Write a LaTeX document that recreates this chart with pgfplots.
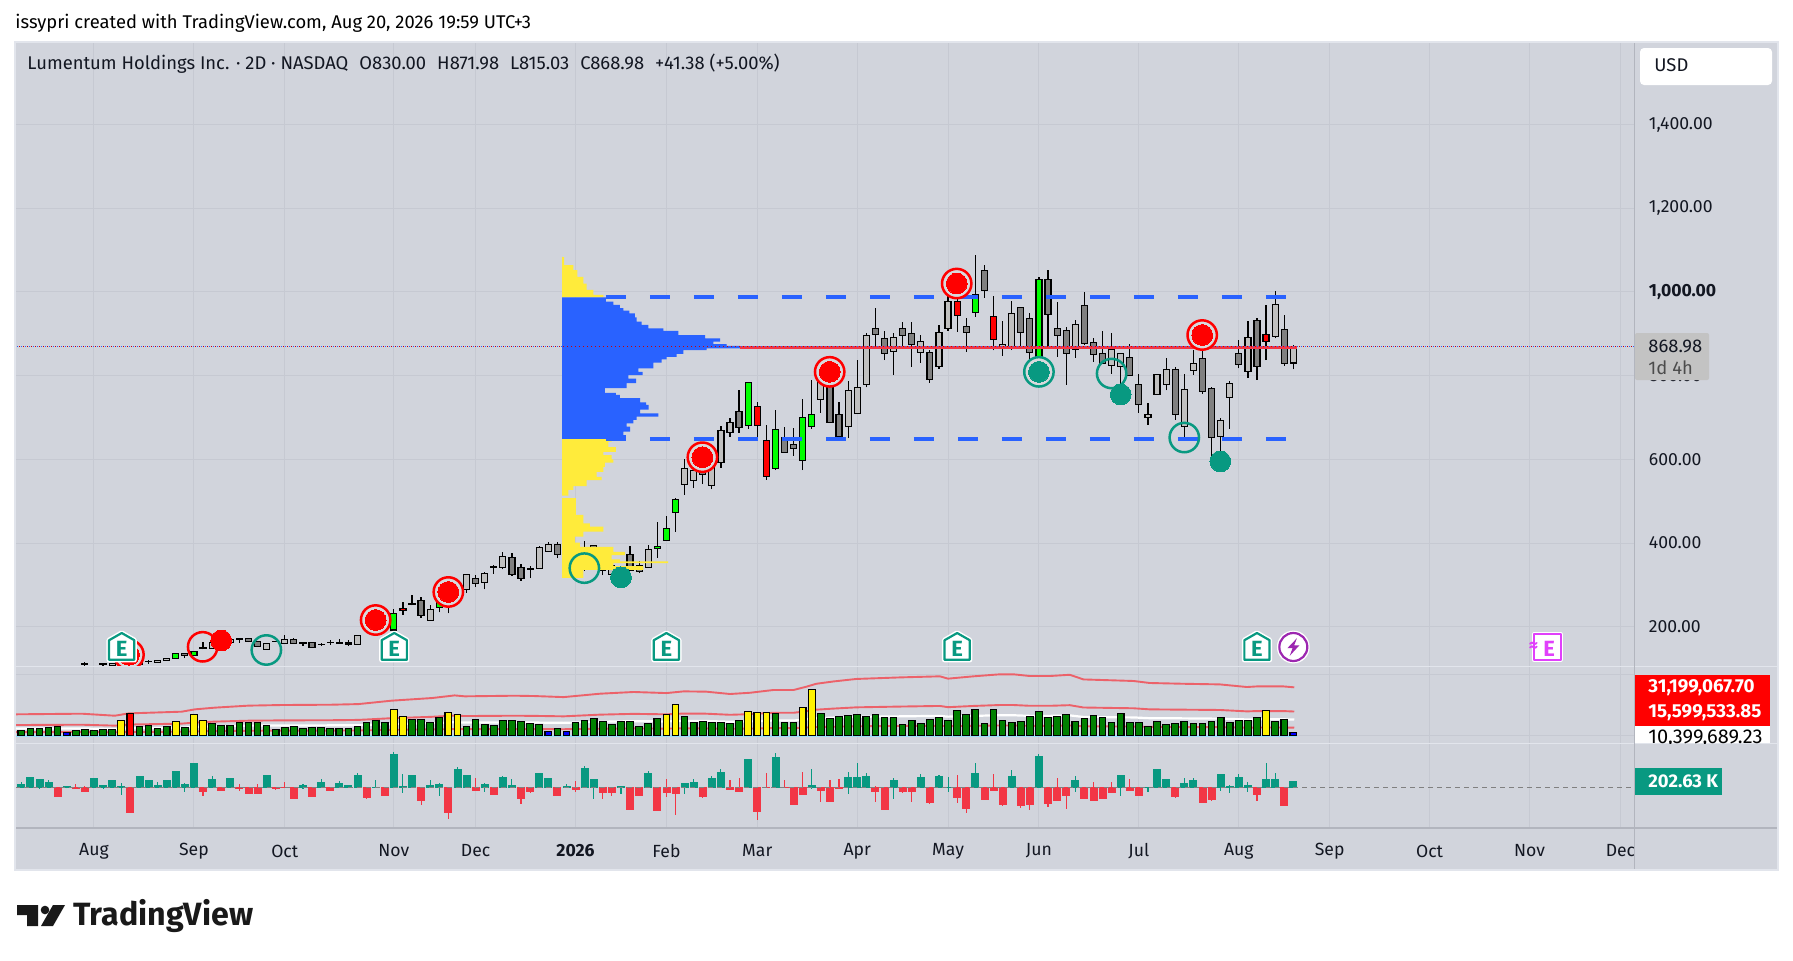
\documentclass[border=0pt]{standalone}
\usepackage{fontspec}
\setmainfont{Fira Sans}
\usepackage{pgfplots}
\usepackage{pgfplotstable}
\pgfplotsset{compat=1.18}
\definecolor{tvbg}{RGB}{209,212,220}
\definecolor{tvgrid}{RGB}{198,201,210}
\definecolor{tvaxis}{RGB}{178,181,190}
\definecolor{tvdiv}{RGB}{226,229,236}
\definecolor{tvteal}{HTML}{089981}
\definecolor{tvred}{HTML}{F23645}
\definecolor{tvblue}{HTML}{2962FF}
\definecolor{tvyellow}{HTML}{FFEB3B}
\definecolor{clight}{RGB}{192,192,192}
\definecolor{cgray}{RGB}{128,128,128}
\definecolor{cgreen}{RGB}{0,255,0}
\definecolor{ringfill}{RGB}{216,217,220}
\definecolor{volgreen}{RGB}{0,128,0}
\definecolor{maline}{RGB}{240,86,94}
\definecolor{txt}{RGB}{19,23,34}
\definecolor{purp}{HTML}{9C27B0}
\definecolor{magn}{HTML}{E040FB}

\pgfdeclareplotmark{nil}{}
\pgfdeclareplotmark{etag}{%
  \pgfsetlinewidth{2.6pt}\pgfsetstrokecolor{white}\pgfsetfillcolor{white}\pgfsetroundjoin
  \pgfpathmoveto{\pgfpoint{-6.3pt}{-6.4pt}}\pgfpathlineto{\pgfpoint{6.3pt}{-6.4pt}}\pgfpathlineto{\pgfpoint{6.3pt}{3.4pt}}\pgfpathlineto{\pgfpoint{0pt}{7pt}}\pgfpathlineto{\pgfpoint{-6.3pt}{3.4pt}}\pgfpathclose
  \pgfusepath{fill,stroke}
  \pgfsetlinewidth{1.1pt}\pgfsetstrokecolor{tvteal}
  \pgfpathmoveto{\pgfpoint{-6.3pt}{-6.4pt}}\pgfpathlineto{\pgfpoint{6.3pt}{-6.4pt}}\pgfpathlineto{\pgfpoint{6.3pt}{3.4pt}}\pgfpathlineto{\pgfpoint{0pt}{7pt}}\pgfpathlineto{\pgfpoint{-6.3pt}{3.4pt}}\pgfpathclose
  \pgfusepath{stroke}
  \pgftext[y=-1pt]{\textcolor{tvteal}{\fontsize{11}{11}\selectfont\textbf{E}}}%
}
\pgfdeclareplotmark{bolt}{%
  \pgfsetfillcolor{white}
  \pgfpathcircle{\pgfpointorigin}{8.2pt}\pgfusepath{fill}
  \pgfsetlinewidth{1.1pt}\pgfsetstrokecolor{purp}
  \pgfpathcircle{\pgfpointorigin}{7pt}\pgfusepath{stroke}
  \pgfsetfillcolor{purp}
  \pgfpathmoveto{\pgfpoint{1.8pt}{4.4pt}}\pgfpathlineto{\pgfpoint{-3pt}{-0.6pt}}\pgfpathlineto{\pgfpoint{-0.4pt}{-0.6pt}}\pgfpathlineto{\pgfpoint{-1.8pt}{-4.4pt}}\pgfpathlineto{\pgfpoint{3pt}{0.8pt}}\pgfpathlineto{\pgfpoint{0.4pt}{0.8pt}}\pgfpathclose
  \pgfusepath{fill}
}
\pgfdeclareplotmark{emag}{%
  \pgfsetlinewidth{2.2pt}\pgfsetstrokecolor{white}\pgfsetfillcolor{white}\pgfsetroundjoin
  \pgfpathrectangle{\pgfpoint{-6.5pt}{-6.3pt}}{\pgfpoint{13.5pt}{12.6pt}}\pgfusepath{fill,stroke}
  \pgfsetlinewidth{1pt}\pgfsetstrokecolor{magn}
  \pgfpathrectangle{\pgfpoint{-6.5pt}{-6.3pt}}{\pgfpoint{13.5pt}{12.6pt}}\pgfusepath{stroke}
  \pgftext[at={\pgfpoint{1.2pt}{-1pt}}]{\textcolor{magn}{\fontsize{11}{11}\selectfont\textbf{E}}}%
  \pgftext[at={\pgfpoint{-6.7pt}{0pt}}]{\textcolor{magn}{\fontsize{9}{9}\selectfont\textbf{≈}}}%
}

\pgfplotsset{
  candle/.style={scatter, only marks, mark=nil,
    visualization depends on={\thisrow{t}-\thisrow{b} \as \cT},
    visualization depends on={\thisrow{h}-\thisrow{b} \as \cH},
    visualization depends on={\thisrow{l}-\thisrow{b} \as \cL},
    scatter/@pre marker code/.code={%
      \draw[line width=.6pt,black] (axis direction cs:0,\cL) -- (axis direction cs:0,\cH);
      \draw[line width=.6pt,draw=black,fill=#1] (axis direction cs:-.33,0) rectangle (axis direction cs:.33,\cT);
    },
    scatter/@post marker code/.code={},
  },
  delta/.style={scatter, only marks, mark=nil,
    visualization depends on={0-\thisrow{e} \as \dZ},
    visualization depends on={\thisrow{h}-\thisrow{e} \as \dH},
    visualization depends on={\thisrow{l}-\thisrow{e} \as \dL},
    scatter/@pre marker code/.code={%
      \draw[line width=.55pt,#1] (axis direction cs:0,\dL) -- (axis direction cs:0,\dH);
      \fill[#1] (axis direction cs:-.385,0) rectangle (axis direction cs:.385,\dZ);
    },
    scatter/@post marker code/.code={},
  },
  pane/.style={
    scale only axis, width=809.75pt,
    xmin=-0.693, xmax=177.55,
    clip mode=individual, clip marker paths=true,
    axis line style={draw=none},
    major tick length=0pt,
    xtick={8,19,29,41,50,61,71,81,92,102,112,123,134,144,155,166,176},
    xmajorgrids, grid style={tvgrid,line width=.5pt},
    tick label style={font=\fontsize{8.8}{10}\selectfont,text=txt},
  },
}

\pgfplotstableread{
k t b h l
6 109 105 113 105
7 111 110 115 105
8 109 105 110 105
9 111 110 113 105
10 113 108 113 107
11 111 107 113 106
12 111 108 112 107
13 119 111 119 111
14 117 116 120 111
15 120 115 121 115
16 124 120 125 120
20 150 148 164 146
21 163 147 165 147
22 170 160 175 158
23 170 162 171 162
27 159 146 159 146
28 165 164 165 164
29 170 160 180 160
31 162 161 162 155
33 158 157 160 154
34 163 162 168 157
35 161 160 171 160
37 179 157 181 157
39 205 198 208 196
40 200 199 204 199
45 242 214 251 214
47 284 256 290 232
49 325 288 325 281
51 327 305 330 289
52 343 342 347 327
53 367 342 378 337
56 338 337 345 316
57 390 339 393 339
58 397 379 402 379
61 370 340 376 335
62 385 350 405 333
64 360 335 365 323
65 345 325 350 320
66 335 320 340 315
69 385 342 395 342
73 578 540 601 515
74 573 549 610 531
76 582 537 617 529
77 669 593 680 580
78 688 664 699 654
88 803 743 837 711
91 765 679 787 651
92 772 710 837 710
93 896 779 901 772
96 891 858 903 801
99 881 856 897 831
101 903 821 922 816
102 977 912 1005 907
108 875 867 930 848
109 949 865 978 861
116 923 863 934 843
120 863 825 901 804
121 853 822 853 778
124 707 700 734 683
125 803 755 805 755
126 815 779 841 765
128 767 679 803 654
129 829 813 861 802
132 693 655 698 614
133 782 748 787 673
135 891 810 930 795
138 970 894 1002 889
140 868.98 830 871.98 815.03
}\candleL
\pgfplotstableread{
k t b h l
18 136 132 137 125
24 172 170 172 162
25 172 165 172 163
26 164 153 165 153
30 170 160 172 159
32 162 151 164 150
36 161 157 168 154
43 255 253 276 251
44 263 226 271 222
50 316 304 323 296
54 366 324 375 322
55 342 315 350 310
59 397 373 402 364
60 380 360 388 355
63 394 360 396 350
67 373 335 393 335
68 345 331 358 328
75 606 564 615 541
79 715 676 766 664
84 652 617 677 617
85 636 626 675 608
89 789 688 789 688
90 707 654 736 654
94 913 899 961 869
95 889 853 907 837
97 913 896 927 869
98 901 875 927 821
100 856 791 861 783
104 917 903 937 857
106 1052 1004 1064 986
110 963 903 963 865
111 937 856 949 823
113 1030 946 1052 871
114 913 896 975 845
115 908 853 915 778
117 968 877 1000 872
118 879 851 891 833
119 853 828 906 828
122 844 801 875 801
123 779 731 805 711
127 815 707 821 695
130 841 762 877 757
131 770 652 773 606
134 853 827 885 817
136 932 822 937 790
139 911 829 944 824
}\candleD
\pgfplotstableread{
k t b h l
17 136 124 136 124
19 141 132 141 132
38 198 194 200 193
41 232 192 242 192
46 268 246 268 234
48 292 268 292 268
70 392 387 450 365
71 434 406 465 406
72 504 473 507 427
80 784 681 784 673
83 672 578 718 574
86 700 597 744 574
87 707 679 789 673
105 993 951 1088 941
112 1030 805 1035 805
}\candleG
\pgfplotstableread{
k t b h l
42 244 239 258 228
81 726 681 736 652
82 645 559 682 551
103 977 944 1005 905
107 942 887 990 860
137 899 882 969 837
}\candleR

\pgfplotstableread{
k v
0 3.4
1 4.7
2 4.7
3 5.4
4 6.0
6 3.4
7 4.1
8 3.4
9 4.1
10 4.1
13 6.0
14 6.7
15 4.7
16 6.0
18 5.4
21 8.0
22 6.7
23 6.7
24 8.6
25 8.6
26 8.6
27 6.7
28 4.1
29 5.4
30 6.0
31 4.7
32 5.4
33 5.4
34 4.7
35 4.7
36 4.7
37 6.0
38 8.6
39 9.9
40 8.6
43 10.5
44 10.5
45 8.6
46 11.8
49 6.0
50 10.5
51 7.3
52 6.7
53 9.9
54 9.9
55 9.2
56 8.0
57 7.3
59 4.7
61 8.6
62 9.9
63 11.2
64 9.2
65 7.3
66 9.2
67 9.2
68 6.0
69 8.0
70 11.2
73 12.5
74 8.6
75 9.2
76 8.6
77 8.6
78 8.0
79 9.9
83 14.4
84 8.6
85 8.6
88 14.4
89 11.2
90 12.5
91 13.1
92 13.8
93 12.5
94 13.8
95 11.8
96 11.8
97 7.3
98 9.9
99 8.0
100 10.5
101 11.8
102 9.9
103 16.3
104 13.8
105 17.0
106 8.0
107 17.0
108 9.9
109 8.6
110 9.2
111 12.5
112 15.7
113 11.8
114 12.5
115 13.8
116 9.2
117 11.2
118 13.1
119 11.8
120 8.6
121 14.4
122 8.6
123 8.6
124 6.0
125 9.2
126 7.3
127 8.0
128 9.2
129 8.0
130 8.0
131 9.2
132 11.8
133 8.6
134 9.9
135 9.9
136 11.8
138 9.2
139 10.5
}\volGreen
\pgfplotstableread{
k v
11 9.9
17 9.2
19 13.8
20 9.9
41 17.0
42 12.5
47 15.1
48 13.8
71 13.8
72 20.2
80 15.7
81 15.1
82 15.1
86 18.3
87 29.9
137 16.3
}\volYellow
\pgfplotstableread{
k v
5 2.2
58 2.8
60 2.8
140 2.2
}\volBlue
\pgfplotstableread{
k v
12 14.4
}\volRed
\pgfplotstableread{
k top mid ma low
-0.7 13.8 6.9 4.6 2.3
6.65 14.2 7.1 4.7 2.4
10.3 12.9 6.5 4.3 2.2
11.8 14.4 7.2 4.8 2.4
17.65 15.5 7.8 5.2 2.6
19.1 17.0 8.5 5.7 2.8
21.3 18.1 9.1 6.0 3.0
25 19.4 9.7 6.5 3.2
28.65 19.8 9.9 6.6 3.3
34.15 20.0 10.0 6.7 3.3
37.1 20.4 10.2 6.8 3.4
40.75 22.6 11.3 7.5 3.8
45.2 24.3 12.2 8.1 4.1
47.7 26.0 13.0 8.7 4.3
48.8 25.4 12.7 8.5 4.2
54.3 25.8 12.9 8.6 4.3
56.4 25.6 12.8 8.5 4.3
59.7 24.9 12.5 8.3 4.2
63.7 27.1 13.6 9.0 4.5
67.4 28.2 14.1 9.4 4.7
71 27.5 13.8 9.2 4.6
72.9 28.6 14.3 9.5 4.8
75.4 28.4 14.2 9.5 4.7
78 26.9 13.5 9.0 4.5
80.2 27.7 13.9 9.2 4.6
82.8 29.5 14.8 9.8 4.9
85 29.5 14.8 9.8 4.9
86.4 31.6 15.8 10.5 5.3
87.5 33.5 16.8 11.2 5.6
89.4 35.0 17.5 11.7 5.8
91.9 36.6 18.3 12.2 6.1
96.7 37.6 18.8 12.5 6.3
101.1 38.3 19.2 12.8 6.4
102 36.8 18.4 12.3 6.1
104.8 38.3 19.2 12.8 6.4
107.7 39.6 19.8 13.2 6.6
109.2 39.6 19.8 13.2 6.6
111 38.5 19.3 12.8 6.4
113.2 38.5 19.3 12.8 6.4
115.4 39.3 19.7 13.1 6.6
116.9 36.3 18.2 12.1 6.1
122.4 35.3 17.7 11.8 5.9
124.2 34.0 17.0 11.3 5.7
127.9 33.5 16.8 11.2 5.6
131.9 33.1 16.6 11.0 5.5
134.9 31.4 15.7 10.5 5.2
136 31.8 15.9 10.6 5.3
138.9 31.8 15.9 10.6 5.3
140.1 31.2 15.6 10.4 5.2
}\volBands

\pgfplotstableread{
k e h l
0 110 176 0
1 341 341 0
2 275 275 -55
3 176 242 0
5 33 44 -33
8 308 308 0
9 77 77 -55
10 242 242 0
11 33 143 -253
13 374 374 0
14 242 242 0
15 77 176 0
16 242 242 0
17 539 539 0
18 110 132 -154
19 803 803 0
21 275 374 0
23 308 308 0
27 407 407 0
31 77 110 -55
33 176 275 0
35 143 209 0
36 77 77 0
37 407 473 0
39 11 242 -22
41 1100 1166 0
42 33 440 -187
43 407 407 0
45 77 242 0
46 110 143 -286
48 605 671 0
49 407 407 0
51 110 143 -154
53 341 374 0
54 77 275 0
57 473 473 0
58 308 308 0
60 44 110 0
62 638 704 0
63 275 275 -385
66 44 44 -220
69 473 539 0
73 143 143 -220
74 176 275 0
76 308 374 0
77 506 605 0
80 935 935 0
83 1001 1133 0
87 77 605 -55
91 341 506 -220
92 341 803 0
93 374 473 0
96 242 308 -385
99 341 440 0
101 374 407 0
102 11 341 -154
105 473 803 0
109 374 572 0
112 1034 1100 0
116 242 374 -154
121 407 407 -286
124 11 11 -154
125 605 605 0
126 275 275 0
128 143 308 0
129 242 308 0
132 440 440 -121
133 33 77 -187
134 341 440 0
135 77 176 -154
137 275 803 0
138 275 473 0
140 209 209 0
}\deltaUp
\pgfplotstableread{
k e h l
4 -286 0 -286
6 -22 110 -22
7 -121 44 -121
12 -814 0 -814
20 -121 0 -286
22 -88 0 -121
24 -22 110 -121
25 -187 0 -220
26 -187 110 -220
28 -22 0 -88
29 -11 176 -33
30 -352 0 -352
32 -286 0 -286
34 -88 0 -110
38 -319 0 -385
40 -253 0 -286
44 -418 0 -583
47 -814 0 -1045
50 -88 308 -88
52 -220 0 -253
55 -352 0 -550
56 -121 0 -187
59 -253 0 -253
61 -55 209 -154
64 -154 0 -385
65 -154 0 -286
67 -715 0 -715
68 -253 0 -253
70 -748 0 -748
71 -154 275 -319
72 -187 0 -913
75 -286 0 -352
78 -55 242 -55
79 -121 308 -121
81 -781 0 -1078
82 -11 473 -11
84 -11 242 -11
85 -550 0 -550
86 -220 506 -220
88 -88 0 -484
89 -451 242 -451
90 -22 275 -55
94 -121 44 -484
95 -715 0 -715
97 -121 0 -187
98 -121 0 -484
100 -484 0 -550
103 -319 407 -517
104 -682 0 -847
106 -385 0 -418
107 -88 440 -88
108 -550 0 -616
110 -583 0 -682
111 -550 0 -748
113 -517 0 -649
114 -418 308 -418
115 -253 0 -715
117 -352 0 -352
118 -418 176 -451
119 -352 0 -352
120 -154 176 -154
122 -88 275 -88
123 -253 0 -253
127 -286 0 -352
130 -484 0 -484
131 -385 0 -451
136 -220 0 -451
139 -583 0 -583
}\deltaDown

\begin{document}
\begin{tikzpicture}
\path[use as bounding box] (0pt,0pt) rectangle (896.5pt,-480pt);
\fill[white] (0pt,0pt) rectangle (896.5pt,-480pt);
\begin{scope}[x=.5pt,y=-.5pt]
\fill[tvbg] (15,42) rectangle (1778,870);
\end{scope}

% main price pane
\begin{axis}[pane,
  at={(7.5pt,-333pt)}, anchor=south west, height=312pt,
  ymin=106.1, ymax=1597.1,
  ytick={200,400,600,800,1000,1200,1400},
  yticklabels={200.00,400.00,600.00,800.00,{\textbf{1,000.00}},{1,200.00},{1,400.00}},
  ymajorgrids,
  yticklabel pos=right,
  yticklabel style={anchor=west,inner xsep=0pt,xshift=7pt},
  xticklabel=\empty,
]
\addplot[candle=clight] table[x=k,y=b] {\candleL};
\addplot[candle=cgray] table[x=k,y=b] {\candleD};
\addplot[candle=cgreen] table[x=k,y=b] {\candleG};
\addplot[candle=red] table[x=k,y=b] {\candleR};
% volume profile
\addplot[fill=tvyellow,draw=none] table {
59.51 1086
59.51 1083
59.73 1083
59.73 1064
60.76 1064
60.76 1052
61.2 1052
61.2 1036
61.86 1036
61.86 1020
62.23 1020
62.23 1005
62.96 1005
62.96 993
64.06 993
64.06 987
59.51 987
};
\addplot[fill=tvblue,draw=none] table {
59.51 987
64.35 987
64.35 977
65.16 977
65.16 969
65.89 969
65.89 961
66.26 961
66.26 955
66.92 955
66.92 949
67.54 949
67.54 939
67.73 939
67.73 929
68.28 929
68.28 921
69.01 921
69.01 913
70.66 913
70.66 907
72.31 907
72.31 897
75.25 897
75.25 889
76.90 889
76.90 881
76.17 881
76.17 875
77.63 875
77.63 871
79.10 871
79.10 865
75.43 865
75.43 861
72.86 861
72.86 852
72.13 852
72.13 845
71.03 845
71.03 839
70.48 839
70.48 831
69.56 831
69.56 817
67.91 817
67.91 809
68.39 809
68.39 801
66.81 801
66.81 793
67.66 793
67.66 782
66.63 782
66.63 770
64.24 770
64.24 759
65.45 759
65.45 754
65.89 754
65.89 746
68.10 746
68.10 736
68.76 736
68.76 730
69.05 730
69.05 719
68.10 719
68.10 710
70.11 710
70.11 702
67.73 702
67.73 694
67.36 694
67.36 686
66.63 686
66.63 678
67.0 678
67.0 666
66.26 666
66.26 658
66.55 658
66.55 648.5
59.51 648.5
};
\addplot[fill=tvyellow,draw=none] table {
59.51 648.5
64.98 648.5
64.98 642
64.61 642
64.61 629
65.45 629
65.45 618
64.06 618
64.06 610
64.98 610
64.98 600
65.16 600
65.16 592
64.24 592
64.24 582
64.06 582
64.06 570
63.33 570
63.33 558
63.88 558
63.88 550
62.23 550
62.23 536
60.76 536
60.76 527
60.21 527
60.21 513
59.51 513
};
\addplot[fill=tvyellow,draw=none] table {
59.51 507
61.05 507
61.05 467
61.86 467
61.86 447
62.59 447
62.59 439
64.06 439
64.06 427
61.86 427
61.86 415
60.94 415
60.94 401
61.49 401
61.49 391
65.16 391
65.16 379
66.44 379
66.44 371
64.98 371
64.98 361
65.89 361
65.89 356
71.2 356
71.2 352
65.16 352
65.16 345
68.46 345
68.46 336
61.86 336
61.86 317
59.51 317
};
% lines
\addplot[tvblue,line width=2pt,dash pattern=on 10pt off 12pt] coordinates {(64.35,987)(139.2,987)};
\addplot[tvblue,line width=2pt,dash pattern=on 10pt off 12pt] coordinates {(64.35,648.5)(139.2,648.5)};
\addplot[tvred,line width=1.5pt] coordinates {(79.1,867.5)(140.4,867.5)};
\addplot[red!80!black,line width=.55pt,dash pattern=on .6pt off 1.4pt] coordinates {(-0.693,868.98)(177.55,868.98)};
\addplot[tvblue,line width=.55pt,dash pattern=on .6pt off 1.4pt,dash phase=1pt] coordinates {(-0.693,868.98)(177.55,868.98)};
% signal circles
\addplot[only marks,mark=*,mark size=7.35pt,mark options={draw=red,fill=ringfill,line width=1.25pt}] coordinates {(11.85,133)(39,216)(47,283)(74.96,605)(88.97,809)(102.95,1020)(129.97,897)};
\addplot[only marks,mark=*,mark size=5.2pt,mark options={draw=red,fill=red,line width=0pt}] coordinates {(11.85,133)(22,167)(39,216)(47,283)(74.96,605)(88.97,809)(102.95,1020)(129.97,897)};
\addplot[only marks,mark=o,mark size=7.35pt,mark options={draw=red,line width=1.25pt}] coordinates {(19.96,152)};
\addplot[only marks,mark=*,mark size=7.35pt,mark options={draw=tvteal,fill=ringfill,line width=1.25pt}] coordinates {(112,809)};
\addplot[only marks,mark=o,mark size=7.35pt,mark options={draw=tvteal,line width=1.25pt}] coordinates {(26.97,144.4)(61.97,340)(120,805)(128,652)};
\addplot[only marks,mark=*,mark size=5.2pt,mark options={draw=tvteal,fill=tvteal,line width=0pt}] coordinates {(66,318)(112,809)(121,755)(131.96,595)};
% earnings and event tags
\addplot[only marks,mark=etag] coordinates {(11.05,151.5)(41.05,151.5)(71,151.5)(103,151.5)(136,151.5)};
\addplot[only marks,mark=bolt] coordinates {(140,151.5)};
\addplot[only marks,mark=emag] coordinates {(167.9,151.5)};
\end{axis}

% volume pane
\begin{axis}[pane,
  at={(7.5pt,-371.5pt)}, anchor=south west, height=38pt,
  ymin=-4.7, ymax=44.3,
  ytick={0,39.3}, yticklabels={}, ymajorgrids,
  xticklabel=\empty,
  ybar, bar shift=0pt, bar width=3.3pt,
]
\addplot[ybar=0pt,sharp plot,mark=none,maline,line width=.95pt,fill=none,opacity=.9] table[x=k,y=top] {\volBands};
\addplot[ybar=0pt,sharp plot,mark=none,maline,line width=.95pt,fill=none,opacity=.9] table[x=k,y=mid] {\volBands};
\addplot[ybar=0pt,sharp plot,mark=none,white,line width=1.1pt,fill=none] table[x=k,y=ma] {\volBands};
\addplot[ybar=0pt,sharp plot,mark=none,maline,line width=.95pt,fill=none,opacity=.9] table[x=k,y=low] {\volBands};
\addplot[ybar=0pt,sharp plot,mark=none,cyan!40!white,line width=.9pt,fill=none] coordinates {(-0.693,0)(140.4,0)};
\addplot[fill=volgreen,draw=black,line width=.55pt] table[x=k,y=v] {\volGreen};
\addplot[fill=yellow,draw=black,line width=.55pt] table[x=k,y=v] {\volYellow};
\addplot[fill=blue,draw=black,line width=.55pt] table[x=k,y=v] {\volBlue};
\addplot[fill=red,draw=black,line width=.55pt] table[x=k,y=v] {\volRed};
\end{axis}

% delta pane
\begin{axis}[pane,
  at={(7.5pt,-414pt)}, anchor=south west, height=42pt,
  ymin=-1343, ymax=1429,
  ytick=\empty,
  xticklabels={Aug,Sep,Oct,Nov,Dec,\textbf{2026},Feb,Mar,Apr,May,Jun,Jul,Aug,Sep,Oct,Nov,Dec},
  xticklabel style={anchor=center,yshift=-11.5pt},
]
\addplot[delta=tvteal] table[x=k,y=e] {\deltaUp};
\addplot[delta=tvred] table[x=k,y=e] {\deltaDown};
\addplot[cgray,line width=.5pt,dash pattern=on 2.5pt off 2pt] coordinates {(-0.693,0)(177.55,0)};
\end{axis}

\begin{scope}[x=.5pt,y=-.5pt,font=\fontsize{9.2}{11}\selectfont,text=txt]
% dividers
\draw[tvdiv,line width=.7pt] (15,666.5) -- (1778,666.5);
\draw[tvdiv,line width=.7pt] (15,743.5) -- (1778,743.5);
\draw[tvaxis,line width=.7pt] (15,828) -- (1778,828);
\draw[tvaxis,line width=.7pt] (1634.5,42) -- (1634.5,870);
\draw[tvdiv,line width=.7pt] (15,42) rectangle (1778,870);
% header
\node[anchor=west,inner sep=0pt,text=black] at (15,23) {issypri created with TradingView.com, Aug 20, 2026 19:59 UTC+3};
\node[anchor=west,inner sep=0pt] at (27,64) {Lumentum Holdings Inc. · 2D · NASDAQ\hspace{5.5pt}O830.00\hspace{5.5pt}H871.98\hspace{5.5pt}L815.03\hspace{5.5pt}C868.98\hspace{5.5pt}+41.38 (+5.00\%)};
% USD
\fill[white,rounded corners=2pt] (1640,48) rectangle (1772,85);
\node[anchor=west,inner sep=0pt] at (1654,65) {USD};
% last price
\fill[clight!95!white,rounded corners=1pt] (1635,333) rectangle (1709,380);
\node[anchor=west,inner sep=0pt] at (1648,346.5) {868.98};
\node[anchor=west,inner sep=0pt,text=black!70] at (1648,368) {1d 4h};
% volume labels
\fill[red] (1635,675) rectangle (1770,726.5);
\begin{scope}
\clip (1635,726) rectangle (1770,743);
\fill[white] (1635,726) rectangle (1770,743);
\node[anchor=west,inner sep=0pt,text=black,font=\fontsize{10}{12}\selectfont] at (1648,738.4) {10,399,689.23};
\end{scope}
\node[anchor=west,inner sep=0pt,text=white,font=\fontsize{9.4}{12}\selectfont] at (1648,687.7) {\textbf{31,199,067.70}};
\node[anchor=west,inner sep=0pt,text=white,font=\fontsize{9.4}{12}\selectfont] at (1648,712.5) {\textbf{15,599,533.85}};
% delta label
\fill[tvteal] (1635,768) rectangle (1722,795);
\node[anchor=west,inner sep=0pt,text=white] at (1648,781.5) {\textbf{202.63 K}};
% logo
\fill[black!90] (17,905) -- (38,905) -- (38,926) -- (27,926) -- (27,915) -- (17,915) -- cycle;
\fill[black!90] (45,910) circle (4.3);
\fill[black!90] (53,905) -- (65,905) -- (53,926) -- (41,926) -- cycle;
\node[anchor=west,inner sep=0pt,text=black!90] at (73,915.5) {\fontsize{16.1}{17}\selectfont\textbf{TradingView}};
\end{scope}
\end{tikzpicture}
\end{document}
